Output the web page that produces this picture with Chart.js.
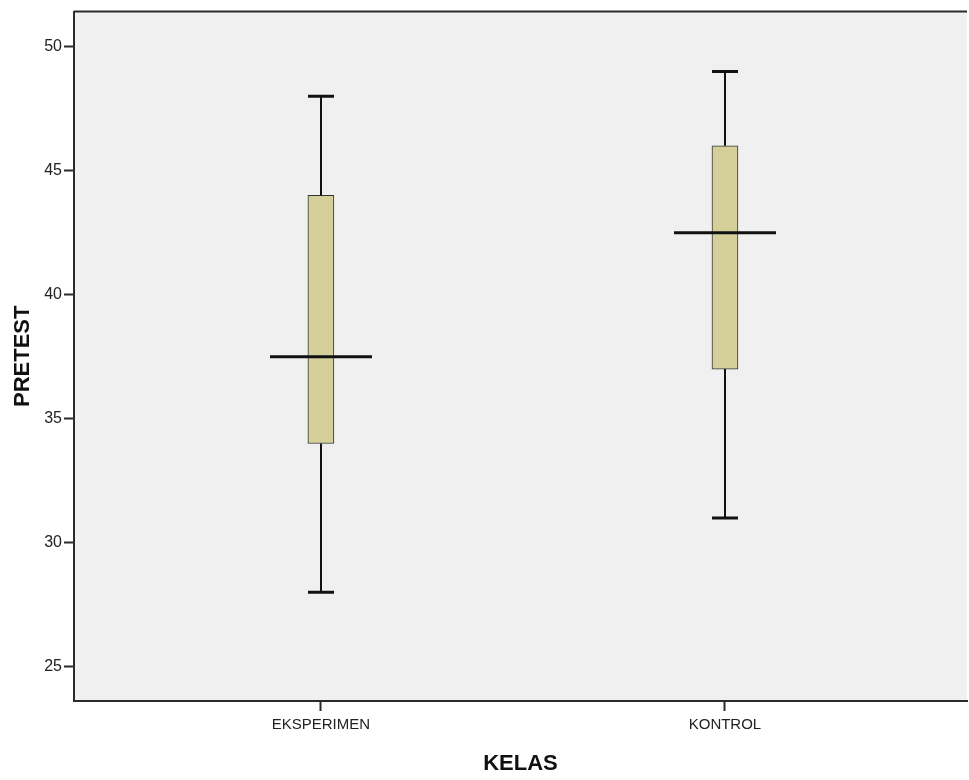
<!DOCTYPE html>
<html>
<head>
<meta charset="utf-8">
<script src="https://cdn.jsdelivr.net/npm/chart.js@4.4.1/dist/chart.umd.min.js"></script>
<style>
  html, body { margin: 0; padding: 0; background: #fff; }
  canvas { display: block; }
</style>
</head>
<body>
<canvas id="boxChart" width="969" height="780"></canvas>
<script>
// boxplot numbers
const categories = ['EKSPERIMEN', 'KONTROL'];
const minVals = [28, 31];
const q1Vals = [34, 37];
const medians = [37.5, 42.5];
const q3Vals = [44, 46];
const maxVals = [48, 49];
const yTicks = [25, 30, 35, 40, 45, 50];

const FONT = "'Liberation Sans', Arial, sans-serif";
const INK = '#2b2b2b';

const boxData = categories.map((c, i) => ({ x: i, y: [q1Vals[i], q3Vals[i]] }));

const plotBackground = {
  id: 'plotBackground',
  beforeDraw(chart) {
    const { ctx, chartArea: a } = chart;
    ctx.save();
    ctx.fillStyle = '#f0f0f0';
    ctx.fillRect(a.left, a.top, a.right - a.left, a.bottom - a.top);
    ctx.strokeStyle = INK;
    ctx.lineWidth = 2;
    ctx.beginPath();
    ctx.moveTo(a.left, a.top);
    ctx.lineTo(a.right, a.top);
    ctx.stroke();
    ctx.restore();
  },
};

const whiskers = {
  id: 'whiskers',
  afterDatasetsDraw(chart) {
    const { ctx, scales } = chart;
    const x = scales.x, y = scales.y;
    ctx.save();
    ctx.strokeStyle = '#111';
    categories.forEach((c, i) => {
      const px = Math.round(x.getPixelForValue(i));
      // stems
      ctx.lineWidth = 2;
      ctx.beginPath();
      ctx.moveTo(px, y.getPixelForValue(q3Vals[i]));
      ctx.lineTo(px, y.getPixelForValue(maxVals[i]));
      ctx.moveTo(px, y.getPixelForValue(q1Vals[i]));
      ctx.lineTo(px, y.getPixelForValue(minVals[i]));
      ctx.stroke();
      // caps
      ctx.lineWidth = 3;
      ctx.beginPath();
      [minVals[i], maxVals[i]].forEach(v => {
        const py = y.getPixelForValue(v);
        ctx.moveTo(px - 13, py);
        ctx.lineTo(px + 13, py);
      });
      ctx.stroke();
      // median
      const my = y.getPixelForValue(medians[i]);
      ctx.lineWidth = 3;
      ctx.beginPath();
      ctx.moveTo(px - 51, my);
      ctx.lineTo(px + 51, my);
      ctx.stroke();
    });
    ctx.restore();
  },
};

new Chart(document.getElementById('boxChart').getContext('2d'), {
  type: 'bar',
  data: {
    datasets: [
      {
        data: boxData,
        backgroundColor: '#d5cf9a',
        borderColor: '#333',
        borderWidth: 1,
        borderSkipped: false,
        barThickness: 26,
      },
    ],
  },
  options: {
    responsive: false,
    animation: false,
    layout: { padding: { left: 0, right: 2, top: 9, bottom: 0 } },
    plugins: {
      legend: { display: false },
      tooltip: { enabled: false },
    },
    scales: {
      x: {
        type: 'linear',
        offset: false,
        min: -0.611,
        max: 1.599,
        afterBuildTicks: (scale) => {
          scale.ticks = categories.map((c, i) => ({ value: i }));
        },
        afterFit: (scale) => { scale.height = 79; },
        ticks: {
          autoSkip: false,
          maxRotation: 0,
          padding: 5,
          color: '#222',
          font: { family: FONT, size: 15 },
          callback: (v) => categories[v] ?? '',
        },
        grid: {
          offset: false,
          drawOnChartArea: false,
          drawTicks: true,
          tickLength: 10,
          tickWidth: 2,
          tickColor: INK,
        },
        border: { display: true, color: INK, width: 2 },
        title: {
          display: true,
          text: 'KELAS',
          color: '#111',
          font: { family: FONT, size: 22, weight: 'bold' },
          padding: { top: 0, bottom: 3 },
        },
      },
      y: {
        min: 23.62,
        max: 51.41,
        afterBuildTicks: (scale) => {
          scale.ticks = yTicks.map(v => ({ value: v }));
        },
        afterFit: (scale) => { scale.width = 74; },
        ticks: {
          padding: 2,
          color: '#222',
          font: { family: FONT, size: 16 },
        },
        grid: {
          drawOnChartArea: false,
          drawTicks: true,
          tickLength: 10,
          tickWidth: 2,
          tickColor: INK,
        },
        border: { display: true, color: INK, width: 2 },
        title: {
          display: true,
          text: 'PRETEST',
          color: '#111',
          font: { family: FONT, size: 22, weight: 'bold' },
          padding: { top: 10, bottom: 0 },
        },
      },
    },
  },
  plugins: [plotBackground, whiskers],
});
</script>
</body>
</html>
